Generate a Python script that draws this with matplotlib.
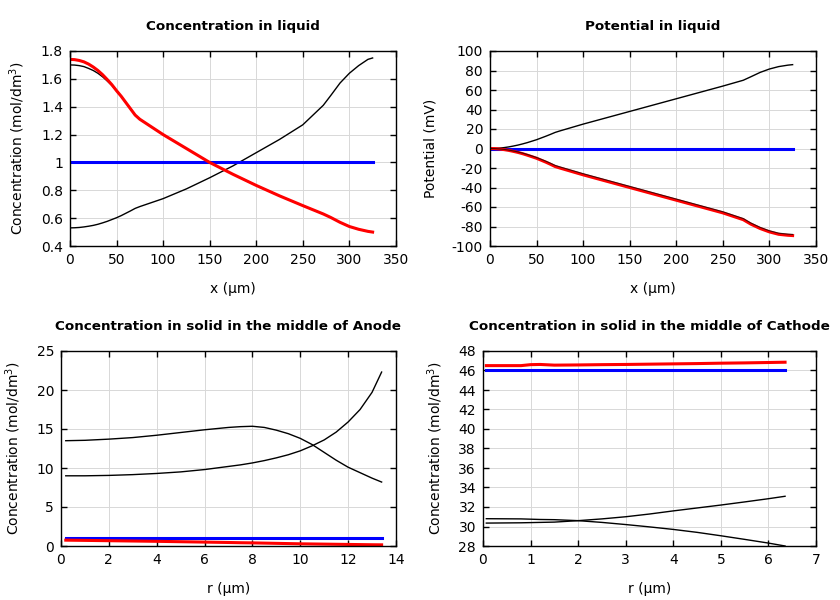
import matplotlib
matplotlib.use("Agg")
import matplotlib.pyplot as plt
from matplotlib.ticker import FuncFormatter, MultipleLocator

# ---- liquid phase, x in um ----
x_liq = [0, 5, 10, 15, 20, 25, 30, 35, 40, 45, 50, 55, 60, 65, 70, 75, 100, 125, 150, 175, 200, 225,
         250, 272, 280, 290, 300, 310, 320, 325]
c_liq_red = [1.74, 1.738, 1.732, 1.722, 1.706, 1.685, 1.66, 1.63, 1.595, 1.558, 1.515, 1.475, 1.43,
             1.385, 1.34, 1.31, 1.20, 1.10, 1.00, 0.915, 0.835, 0.76, 0.69, 0.63, 0.605, 0.57, 0.54,
             0.52, 0.505, 0.50]
c_liq_black1 = [1.70, 1.699, 1.695, 1.688, 1.675, 1.66, 1.64, 1.615, 1.585, 1.553, 1.515, 1.475, 1.43,
                1.385, 1.34, 1.31, 1.20, 1.10, 1.00, 0.915, 0.835, 0.76, 0.69, 0.63, 0.605, 0.57, 0.54,
                0.52, 0.505, 0.50]
c_liq_black2 = [0.53, 0.531, 0.533, 0.537, 0.542, 0.548, 0.556, 0.566, 0.577, 0.59, 0.603, 0.618, 0.635,
                0.652, 0.67, 0.683, 0.74, 0.81, 0.89, 0.975, 1.07, 1.165, 1.27, 1.41, 1.48, 1.57, 1.64,
                1.695, 1.74, 1.75]
c_liq_blue = [1.0] * len(x_liq)

phi_red = [0, -0.1, -0.5, -1.1, -1.9, -2.9, -4, -5.3, -6.8, -8.4, -10, -12, -14, -16.2, -18.5, -20,
           -27, -33.5, -40, -46.5, -53, -59.5, -66, -73, -77.5, -82, -85.5, -88, -89, -89.3]
phi_black1 = [0, 0.1, 0.4, 0.9, 1.6, 2.5, 3.5, 4.7, 6, 7.5, 9, 10.8, 12.6, 14.5, 16.5, 18,
              25, 31.5, 38, 44.5, 51, 57.5, 64, 70, 73.5, 78, 81.5, 84, 85.5, 86]
phi_black2 = [0, -0.1, -0.4, -0.9, -1.6, -2.5, -3.5, -4.7, -6.1, -7.6, -9.2, -11.1, -13, -15.1, -17.3,
              -18.8, -25.8, -32.3, -38.8, -45.3, -51.8, -58.3, -64.8, -71.8, -76.3, -80.8, -84.3,
              -86.8, -87.8, -88.1]
phi_blue = [0.0] * len(x_liq)

# ---- solid in anode, r in um ----
r_an = [0.2, 1, 2, 3, 4, 5, 6, 7, 7.5, 8, 8.5, 9, 9.5, 10, 10.5, 11, 11.5, 12, 12.5, 13, 13.4]
c_an_black1 = [13.5, 13.55, 13.7, 13.9, 14.2, 14.55, 14.9, 15.2, 15.3, 15.35, 15.2, 14.85, 14.4, 13.8,
               13.0, 12.0, 11.0, 10.1, 9.4, 8.7, 8.2]
c_an_black2 = [9.0, 9.0, 9.05, 9.15, 9.3, 9.5, 9.8, 10.2, 10.4, 10.65, 10.95, 11.3, 11.7, 12.2, 12.85,
               13.6, 14.6, 15.9, 17.5, 19.7, 22.3]
c_an_red = [0.75, 0.72, 0.68, 0.64, 0.6, 0.55, 0.5, 0.45, 0.42, 0.4, 0.37, 0.34, 0.31, 0.28, 0.26,
            0.24, 0.22, 0.2, 0.18, 0.16, 0.15]
c_an_blue = [1.0] * len(r_an)

# ---- solid in cathode, r in um ----
r_ca = [0.07, 0.8, 1.0, 1.2, 1.5, 2, 2.5, 3, 3.5, 4, 4.5, 5, 5.5, 6, 6.35]
c_ca_red = [46.5, 46.5, 46.6, 46.62, 46.55, 46.57, 46.6, 46.62, 46.65, 46.68, 46.71, 46.75, 46.78,
            46.82, 46.85]
c_ca_blue = [46.0] * len(r_ca)
c_ca_black1 = [30.8, 30.78, 30.75, 30.72, 30.7, 30.6, 30.42, 30.2, 29.96, 29.7, 29.4, 29.05, 28.68,
               28.3, 28.0]
c_ca_black2 = [30.35, 30.38, 30.4, 30.42, 30.45, 30.6, 30.78, 31.0, 31.28, 31.6, 31.9, 32.2, 32.52,
               32.85, 33.1]

conc_label = "Concentration (mol/dm$^3$)"

fig = plt.figure(figsize=(8.4, 6.0), dpi=100)

def make_axes(rect, title, xlabel, ylabel, xlim, ylim, xstep, ystep):
    ax = fig.add_axes(rect)
    ax.set_xlim(*xlim)
    ax.set_ylim(*ylim)
    ax.xaxis.set_major_locator(MultipleLocator(xstep))
    ax.yaxis.set_major_locator(MultipleLocator(ystep))
    fmt = FuncFormatter(lambda v, p: "%g" % round(v, 6))
    ax.xaxis.set_major_formatter(fmt)
    ax.yaxis.set_major_formatter(fmt)
    ax.tick_params(direction="in", top=True, right=True, length=4, width=1, labelsize=10, pad=5)
    ax.grid(True, color="#d8d8d8", linewidth=0.7)
    ax.set_axisbelow(True)
    for s in ax.spines.values():
        s.set_linewidth(1.0)
    ax.set_title(title, fontsize=9.7, fontweight="bold", pad=15)
    ax.set_xlabel(xlabel, fontsize=10, labelpad=11)
    ax.set_ylabel(ylabel, fontsize=10, labelpad=10)
    return ax

ax1 = make_axes([0.0833, 0.59, 0.388, 0.325], "Concentration in liquid", "x (µm)", conc_label,
                (0, 350), (0.4, 1.8), 50, 0.2)
ax1.plot(x_liq, c_liq_black1, color="black", lw=1.0)
ax1.plot(x_liq, c_liq_black2, color="black", lw=1.0)
ax1.plot(x_liq, c_liq_blue, color="#0000ff", lw=2.2)
ax1.plot(x_liq, c_liq_red, color="#ff0000", lw=2.2)

ax2 = make_axes([0.5833, 0.59, 0.388, 0.325], "Potential in liquid", "x (µm)", "Potential (mV)",
                (0, 350), (-100, 100), 50, 20)
ax2.plot(x_liq, phi_black1, color="black", lw=1.0)
ax2.plot(x_liq, phi_blue, color="#0000ff", lw=2.2)
ax2.plot(x_liq, phi_red, color="#ff0000", lw=2.2)
ax2.plot(x_liq, phi_black2, color="black", lw=0.8, alpha=0.7)

ax3 = make_axes([0.0726, 0.09, 0.3988, 0.325], "Concentration in solid in the middle of Anode", "r (µm)",
                conc_label, (0, 14), (0, 25), 2, 5)
ax3.plot(r_an, c_an_black1, color="black", lw=1.0)
ax3.plot(r_an, c_an_black2, color="black", lw=1.0)
ax3.plot(r_an, c_an_blue, color="#0000ff", lw=2.2)
ax3.plot(r_an, c_an_red, color="#ff0000", lw=2.2)

ax4 = make_axes([0.575, 0.09, 0.3964, 0.325], "Concentration in solid in the middle of Cathode", "r (µm)",
                conc_label, (0, 7), (28, 48), 1, 2)
ax4.plot(r_ca, c_ca_black1, color="black", lw=1.0)
ax4.plot(r_ca, c_ca_black2, color="black", lw=1.0)
ax4.plot(r_ca, c_ca_blue, color="#0000ff", lw=2.2)
ax4.plot(r_ca, c_ca_red, color="#ff0000", lw=2.2)

fig.savefig("out.png", dpi=100)
